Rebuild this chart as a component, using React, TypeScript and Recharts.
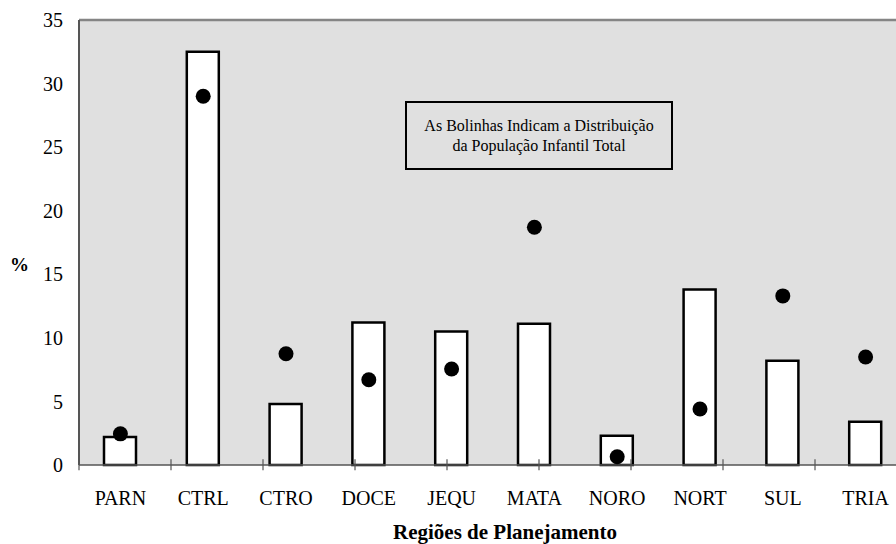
import React from 'react';
import { ComposedChart, Bar, Line, XAxis, YAxis, CartesianGrid, ReferenceLine } from 'recharts';

const regions = ['PARN', 'CTRL', 'CTRO', 'DOCE', 'JEQU', 'MATA', 'NORO', 'NORT', 'SUL', 'TRIA'];
// bars: share of the indicator by region (%)
const barValues = [2.2, 32.5, 4.8, 11.2, 10.5, 11.1, 2.3, 13.8, 8.2, 3.4];
// dots: share of total child population (%)
const dotValues = [2.45, 29.0, 8.75, 6.7, 7.55, 18.7, 0.65, 4.4, 13.3, 8.5];
const yTicks = [0, 5, 10, 15, 20, 25, 30, 35];

const data = regions.map((name, i) => ({ name, bar: barValues[i], dot: dotValues[i] }));
const edges = regions.map((_, i) => i).concat(regions.length);

const FONT = "'Liberation Serif', 'Times New Roman', serif";

export default function App() {
  return (
    <div style={{ position: 'absolute', left: 0, top: 0, width: 896, height: 544, overflow: 'hidden', background: '#fff', fontFamily: FONT }}>
      <ComposedChart width={915} height={544} data={data} margin={{ top: 20, right: 8, bottom: 0, left: 0 }}>
        <CartesianGrid fill="#e0e0e0" horizontal={false} vertical={false} />
        <XAxis
          dataKey="name"
          height={79}
          tickLine={false}
          axisLine={{ stroke: '#555', strokeWidth: 1.5 }}
          tickSize={0}
          tickMargin={26}
          tick={{ fill: '#000', fontSize: 20, fontFamily: FONT }}
          interval={0}
          label={{ value: 'Regiões de Planejamento', position: 'insideBottom', offset: 5, dx: 12, fill: '#000', fontSize: 21, fontWeight: 'bold', fontFamily: FONT }}
        />
        <XAxis xAxisId="edge" type="number" domain={[0, regions.length]} hide />
        <YAxis
          width={79}
          domain={[0, 35]}
          ticks={yTicks}
          tickLine={false}
          tickSize={0}
          tickMargin={16}
          axisLine={{ stroke: '#555', strokeWidth: 2 }}
          tick={{ fill: '#000', fontSize: 20, fontFamily: FONT }}
          label={{ value: '%', position: 'insideLeft', offset: 10, dy: 22, fill: '#000', fontSize: 19, fontWeight: 'bold', fontFamily: FONT }}
        />
        <ReferenceLine y={35} stroke="#858585" strokeWidth={2.5} />
        {edges.map((e) => (
          <ReferenceLine
            key={e}
            xAxisId="edge"
            segment={[{ x: e, y: -0.42 }, { x: e, y: 0.45 }]}
            stroke="#555"
            strokeWidth={1.2}
            ifOverflow="visible"
          />
        ))}
        <Bar dataKey="bar" fill="#fff" stroke="#000" strokeWidth={2.5} barSize={32} isAnimationActive={false} />
        <Line
          dataKey="dot"
          stroke="none"
          dot={{ r: 7.5, fill: '#000', stroke: 'none' }}
          activeDot={false}
          isAnimationActive={false}
        />
      </ComposedChart>
      <div
        style={{
          position: 'absolute',
          left: 405,
          top: 101,
          width: 268,
          height: 69,
          boxSizing: 'border-box',
          border: '2.5px solid #000',
          display: 'flex',
          alignItems: 'center',
          justifyContent: 'center',
          textAlign: 'center',
          fontFamily: FONT,
          fontSize: 16,
          lineHeight: '20px',
          color: '#000',
        }}
      >
        <div style={{ fontFamily: FONT }}>
          As Bolinhas Indicam a Distribuição
          <br />
          da População Infantil Total
        </div>
      </div>
    </div>
  );
}
